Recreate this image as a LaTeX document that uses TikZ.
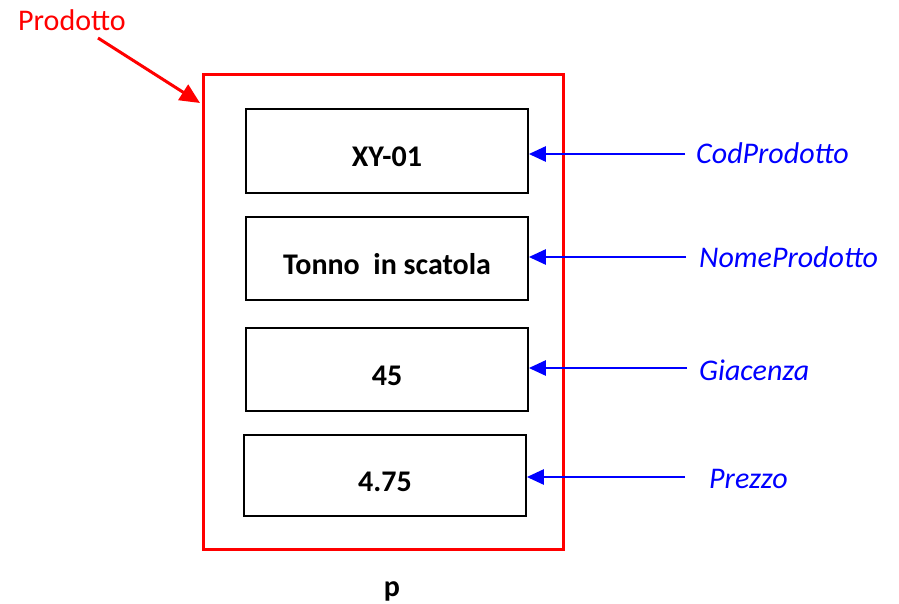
\documentclass[tikz,border=0pt]{standalone}
\usepackage{fontspec}
\setmainfont{Carlito}
\usetikzlibrary{arrows.meta}
\definecolor{myred}{RGB}{255,0,0}
\definecolor{myblue}{RGB}{0,0,255}
\tikzset{
  field/.style={draw=black, line width=1.7pt, minimum width=282pt, inner sep=0pt,
    font=\fontsize{30}{36}\selectfont\bfseries, text height=31pt, text depth=0pt},
  attr/.style={anchor=base west, inner sep=0pt, text=myblue,
    font=\fontsize{30}{36}\selectfont\itshape},
  bluearrow/.style={draw=myblue, line width=2.6pt, -{Triangle[length=17pt,width=15pt]}},
  redarrow/.style={draw=myred, line width=3pt, -{Triangle[length=20pt,width=18pt]}},
}
\begin{document}
\begin{tikzpicture}[x=1pt,y=-1pt]
\useasboundingbox (0,0) rectangle (899,603);
% outer red box
\node[draw=myred, line width=3pt, minimum width=360pt, minimum height=475pt, inner sep=0pt] (outer) at (383,311.5) {};
% fields
\node[field, minimum height=84pt] (b1) at (387,151) {XY-01};
\node[field, minimum height=83pt] (b2) at (387,258.5) {Tonno\ \ in scatola};
\node[field, minimum height=83pt] (b3) at (387,369.5) {45};
\node[field, minimum height=81pt] (b4) at (385,475.5) {4.75};
% labels
\node[attr] (l1) at (696,163) {CodProdotto};
\node[attr] (l2) at (699,267) {NomeProdotto};
\node[attr] (l3) at (699,380) {Giacenza};
\node[attr] (l4) at (709,488) {Prezzo};
\coordinate (s1) at (685,154);
\coordinate (s2) at (686,257);
\coordinate (s3) at (687,368);
\coordinate (s4) at (685,477);
\draw[bluearrow] (s1) -- (s1 -| b1.east);
\draw[bluearrow] (s2) -- (s2 -| b2.east);
\draw[bluearrow] (s3) -- (s3 -| b3.east);
\draw[bluearrow] (s4) -- (s4 -| b4.east);
% Prodotto
\node[anchor=base west, inner sep=0pt, text=myred, font=\fontsize{30}{36}\selectfont] (prod) at (18,30) {Prodotto};
\coordinate (ps) at (98,38);
\coordinate (pe) at (200,103);
\draw[redarrow] (ps) -- (pe);
% p
\node[anchor=base, inner sep=0pt, font=\fontsize{30}{36}\selectfont\bfseries] (p) at (392,596) {p};
\end{tikzpicture}
\end{document}
